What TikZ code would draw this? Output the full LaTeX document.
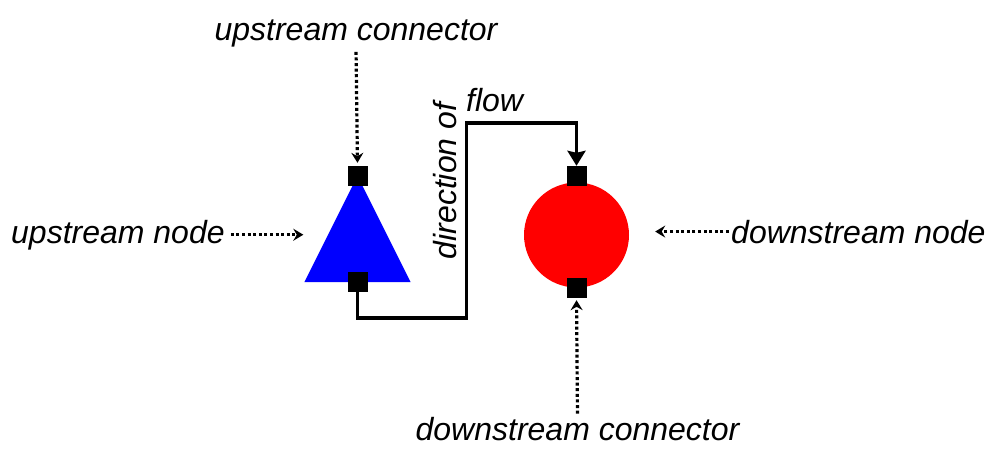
\documentclass[tikz,border=0pt]{standalone}
\usepackage{fontspec}
\setmainfont{Liberation Sans}
\usetikzlibrary{arrows.meta}
\begin{document}
\begin{tikzpicture}[x=1pt,y=-1pt,
  lbl/.style={font=\fontsize{32}{38}\selectfont\itshape, inner sep=0pt},
  conn/.style={fill=black, minimum size=20pt, inner sep=0pt},
  dotarrow/.style={line width=3.2pt, dash pattern=on 3pt off 2.6pt, -{Stealth[length=10pt,width=12pt,inset=3.5pt]}},
  flowline/.style={line width=3.2pt, -{Stealth[length=15pt,width=18pt,inset=2pt]}}
]
\useasboundingbox (0,0) rectangle (987,449);
% upstream node (triangle)
\node[minimum width=106pt, minimum height=106pt, inner sep=0pt] (tri) at (357.5,229) {};
\fill[blue] (tri.south west) -- (tri.south east) -- (tri.north) -- cycle;
\node[conn] (ut) at (357.5,176) {};
\node[conn] (ub) at (357.5,282) {};
% downstream node (circle)
\node[circle, fill=red, minimum size=105pt, inner sep=0pt] (circ) at (576.5,235) {};
\node[conn] (dt) at (576.5,176) {};
\node[conn] (db) at (576.5,288) {};
% flow path
\coordinate (b1) at (466.5,318);
\coordinate (b2) at (466.5,123);
\draw[flowline, line join=miter] (ub.south) |- (b1) -- (b2) -| (dt.north);
% labels
\node[lbl, anchor=base] (ucl) at (356,41) {upstream connector};
\node[lbl, anchor=base] (dcl) at (577.5,440) {downstream connector};
\node[lbl, anchor=base west] (unl) at (11,243) {upstream node};
\node[lbl, anchor=base west] (dnl) at (731,243) {downstream node};
\node[lbl, anchor=base, rotate=90] (dir) at (456,181) {direction of};
\node[lbl, anchor=base west] (flw) at (466,112) {flow};
% dotted pointers
\draw[dotarrow, shorten <=4pt, shorten >=3pt] (ucl.south) -- (ut.north);
\draw[dotarrow, shorten <=3pt, shorten >=2pt] (dcl.north) -- (db.south);
\draw[dotarrow, shorten <=6pt, shorten >=1pt] (unl.east) -- (unl.east -| tri.west);
\draw[dotarrow, shorten <=2pt, shorten >=26pt] (dnl.west) -- (dnl.west -| circ.east);
\end{tikzpicture}
\end{document}
